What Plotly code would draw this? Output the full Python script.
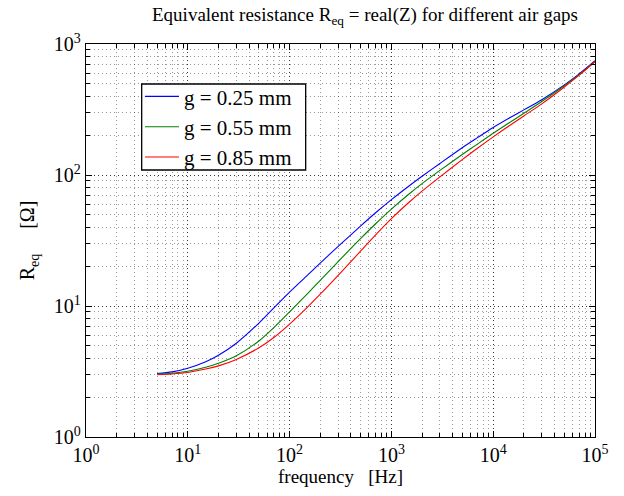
import plotly.graph_objects as go

freq = [5, 7, 10, 15, 20, 30, 50, 70, 100, 150, 200, 300, 500, 700, 1000, 1500,
        2000, 3000, 5000, 7000, 10000, 15000, 20000, 30000, 50000, 70000, 100000]
r_025 = [3.05, 3.14, 3.35, 3.75, 4.21, 5.20, 7.41, 9.66, 12.74, 17.18, 21.28, 28.51, 40.93,
         51.52, 64.86, 82.79, 97.72, 122.5, 162.2, 192.8, 230.7, 277.3, 314.1, 375.8,
         487.5, 591.6, 744.7]
r_055 = [3.02, 3.07, 3.18, 3.41, 3.65, 4.17, 5.41, 6.84, 9.02, 12.45, 15.70, 21.83, 32.81,
         42.46, 54.95, 71.94, 85.90, 108.4, 143.9, 172.2, 208.0, 255.9, 295.8, 363.9,
         479.8, 583.4, 732.8]
r_085 = [2.99, 3.03, 3.11, 3.30, 3.49, 3.91, 4.80, 5.75, 7.28, 9.82, 12.30, 17.14, 26.30,
         34.91, 46.45, 62.23, 75.34, 96.83, 131.5, 160.0, 195.4, 243.2, 282.5, 349.1,
         470.0, 578.0, 735.0]

series_names = ["g = 0.25 mm", "g = 0.55 mm", "g = 0.85 mm"]
series_colors = ["#0000ff", "#008000", "#ff0000"]

x_major = [1, 10, 100, 1000, 10000, 100000]
x_major_text = ["10<sup>0</sup>", "10<sup>1</sup>", "10<sup>2</sup>", "10<sup>3</sup>",
                "10<sup>4</sup>", "10<sup>5</sup>"]
y_major = [1, 10, 100, 1000]
y_major_text = ["10<sup>0</sup>", "10<sup>1</sup>", "10<sup>2</sup>", "10<sup>3</sup>"]
x_minor = [k * 10 ** d for d in range(0, 5) for k in range(2, 10)]
y_minor = [k * 10 ** d for d in range(0, 3) for k in range(2, 10)]

font_family = "Liberation Serif, Times New Roman, serif"

fig = go.Figure()
for name, col, vals in zip(series_names, series_colors, [r_025, r_055, r_085]):
    fig.add_trace(go.Scatter(x=freq, y=vals, mode="lines", name=name,
                             line=dict(color=col, width=1.1, shape="spline", smoothing=0.8)))

axis_common = dict(
    type="log", showline=True, linecolor="black", linewidth=1.3, mirror="ticks",
    ticks="inside", ticklen=6, tickcolor="black", tickwidth=1,
    showgrid=True, gridcolor="rgba(0,0,0,0.8)", gridwidth=1, griddash="1px,3px",
    zeroline=False, tickfont=dict(size=20, color="black", family=font_family),
)
minor_common = dict(tickmode="array", ticks="inside", ticklen=4, tickcolor="black",
                    showgrid=True, gridcolor="rgba(0,0,0,0.4)", griddash="1px,3px",
                    gridwidth=1)

fig.update_xaxes(
    **axis_common, range=[0, 5], tickmode="array", tickvals=x_major, ticktext=x_major_text,
    minor=dict(**minor_common, tickvals=x_minor),
    title=dict(text="frequency   [Hz]", font=dict(size=19, color="black", family=font_family),
               standoff=0),
)
fig.update_yaxes(
    **axis_common, range=[0, 3], tickmode="array", tickvals=y_major, ticktext=y_major_text,
    minor=dict(**minor_common, tickvals=y_minor),
    title=dict(text="R<sub>eq</sub>     [Ω]", font=dict(size=20, color="black", family=font_family),
               standoff=13),
)

# legend frame (white box with black border, drawn under the legend text)
fig.add_shape(type="rect", xref="paper", yref="paper",
              x0=0.1094, x1=0.4316, y0=0.6794, y1=0.8982,
              line=dict(color="black", width=1.3), fillcolor="white", layer="above")

fig.update_layout(
    width=624, height=496,
    margin=dict(l=86, r=29, t=44, b=59),
    paper_bgcolor="white", plot_bgcolor="white",
    font=dict(family=font_family, color="black"),
    title=dict(text="Equivalent resistance R<sub>eq</sub> = real(Z) for different air gaps",
               x=365 / 624, xanchor="center", y=0.972, yanchor="middle",
               font=dict(size=19, color="black", family=font_family)),
    legend=dict(x=0.106, y=0.918, xanchor="left", yanchor="top",
                bgcolor="rgba(0,0,0,0)", borderwidth=0,
                font=dict(size=21, color="black", family=font_family),
                tracegroupgap=0, itemwidth=34),
    showlegend=True,
)

fig.write_html("out.html")
